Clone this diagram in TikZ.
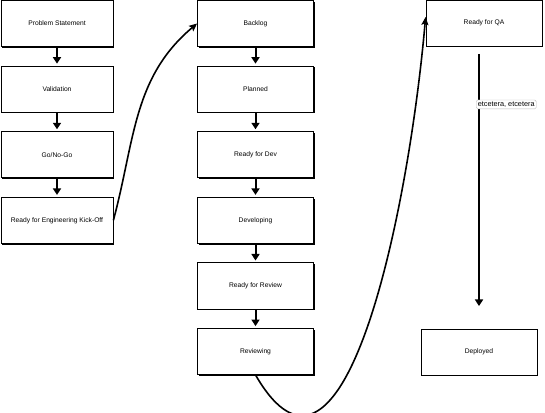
\documentclass[tikz,border=0pt]{standalone}
\usepackage{fontspec}
\setmainfont{Liberation Sans}
\usepackage{tikz}
\usetikzlibrary{arrows.meta,shapes,positioning,shadows}
\usepackage{xcolor}
\definecolor{wfgray}{RGB}{185,185,185}
\tikzstyle{stagebox} = [rectangle, minimum width=116pt, minimum height=46pt, text centered, draw=black, line width=0.8pt, fill=white, drop shadow={shadow xshift=1.4pt, shadow yshift=-1.4pt, fill=black, opacity=1}, font=\fontsize{6.7}{8}\selectfont]
\tikzstyle{nextarrow} = [line width=2pt, -{Triangle[width=8pt,length=6.5pt]}, shorten >=2pt]
\tikzstyle{jumparrow} = [line width=1.6pt, -{Stealth[width=7pt,length=8pt,inset=1.5pt]}]
\tikzstyle{notebox} = [rectangle, rounded corners=1.5pt, draw=wfgray, line width=0.4pt, fill=white, inner sep=1.6pt, font=\fontsize{7.3}{8}\selectfont]

\begin{document}
\begin{tikzpicture}[x=1pt, y=1pt, node distance=18.8pt]
\useasboundingbox (0,0) rectangle (545,412);

% Discovery column
\node[stagebox, minimum width=112pt] (problem) at (57, 388.5) {Problem Statement};
\node[stagebox, minimum width=112pt, below=of problem] (validation) {Validation};
\node[stagebox, minimum width=112pt, below=of validation] (gonogo) {Go/No-Go};
\node[stagebox, minimum width=112pt, below=of gonogo] (kickoff) {Ready for Engineering Kick-Off};

% Engineering column
\node[stagebox] (backlog) at (255.5, 388.5) {Backlog};
\node[stagebox, below=of backlog] (planned) {Planned};
\node[stagebox, below=of planned] (readydev) {Ready for Dev};
\node[stagebox, below=of readydev] (developing) {Developing};
\node[stagebox, below=of developing] (readyreview) {Ready for Review};
\node[stagebox, below=of readyreview] (reviewing) {Reviewing};

% Release column
\node[stagebox] (qa) at (484, 389) {Ready for QA};
\node[stagebox] (deployed) at (479, 60) {Deployed};
\coordinate (qaout) at (479, 358);
\coordinate (deployin) at (479, 106);

% Arrows
\foreach \a/\b in {problem/validation, validation/gonogo, gonogo/kickoff, backlog/planned, planned/readydev, readydev/developing, developing/readyreview, readyreview/reviewing}
  \draw[nextarrow] (\a) -- (\b);
\draw[nextarrow, shorten >=0pt] (qaout) -- node[notebox, pos=0.2, anchor=west, xshift=-3pt] {etcetera, etcetera} (deployin);
\draw[jumparrow] (kickoff.east) to[out=75, in=220] (backlog.west);
\draw[jumparrow] (reviewing.south) to[out=-60, in=-95, out looseness=1.15, in looseness=1.25] ([yshift=6pt]qa.west);
\end{tikzpicture}
\end{document}
